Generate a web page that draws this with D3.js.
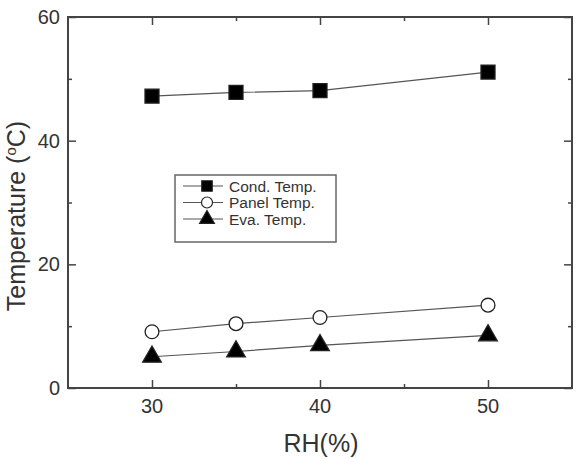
<!DOCTYPE html>
<html><head><meta charset="utf-8">
<script src="https://cdn.jsdelivr.net/npm/d3@7"></script>
<style>body{margin:0;background:#fff;} text{font-family:"Liberation Sans",Arial,sans-serif;fill:#333;}</style>
</head><body><svg id="c" width="583" height="458"></svg>
<script>
const rh = [30, 35, 40, 50];
const condTemp = [47.2, 47.8, 48.1, 51.1];
const panelTemp = [9.1, 10.4, 11.4, 13.4];
const evaTemp = [5.05, 5.9, 6.9, 8.5];
const seriesNames = ["Cond. Temp.", "Panel Temp.", "Eva. Temp."];
const xTicks = [30, 40, 50];
const yTicks = [0, 20, 40, 60];

const svg = d3.select("#c");
const L = 68, R = 572, T = 17, B = 388;
const x = d3.scaleLinear().domain([25, 55]).range([L, R]);
const y = d3.scaleLinear().domain([0, 60]).range([B, T]);
const axisColor = "#444";

function ticks(g, axis) {
  g.call(axis);
  g.select(".domain").remove();
  g.selectAll("line").attr("stroke", axisColor).attr("stroke-width", 1.5);
  g.selectAll("text").remove();
}
const xMinor = [35, 45], yMinor = [10, 30, 50];
svg.append("g").attr("transform", `translate(0,${B})`).call(g => ticks(g, d3.axisTop(x).tickValues(xTicks).tickSize(8)));
svg.append("g").attr("transform", `translate(0,${B})`).call(g => ticks(g, d3.axisTop(x).tickValues(xMinor).tickSize(4)));
svg.append("g").attr("transform", `translate(0,${T})`).call(g => ticks(g, d3.axisBottom(x).tickValues(xTicks).tickSize(8)));
svg.append("g").attr("transform", `translate(0,${T})`).call(g => ticks(g, d3.axisBottom(x).tickValues(xMinor).tickSize(4)));
svg.append("g").attr("transform", `translate(${L},0)`).call(g => ticks(g, d3.axisRight(y).tickValues(yTicks).tickSize(8)));
svg.append("g").attr("transform", `translate(${L},0)`).call(g => ticks(g, d3.axisRight(y).tickValues(yMinor).tickSize(4)));
svg.append("g").attr("transform", `translate(${R},0)`).call(g => ticks(g, d3.axisLeft(y).tickValues(yTicks).tickSize(8)));
svg.append("g").attr("transform", `translate(${R},0)`).call(g => ticks(g, d3.axisLeft(y).tickValues(yMinor).tickSize(4)));

svg.append("rect").attr("x", L).attr("y", T).attr("width", R - L).attr("height", B - T)
  .attr("fill", "none").attr("stroke", axisColor).attr("stroke-width", 2);

svg.selectAll(".xl").data(xTicks).enter().append("text")
  .attr("x", d => x(d)).attr("y", 413).attr("text-anchor", "middle").attr("font-size", 20).text(d => d);
svg.selectAll(".yl").data(yTicks).enter().append("text")
  .attr("x", 60).attr("y", d => y(d) + 7).attr("text-anchor", "end").attr("font-size", 20).text(d => d);

svg.append("text").attr("x", 321).attr("y", 452).attr("text-anchor", "middle").attr("font-size", 25).text("RH(%)");
const yt = svg.append("text").attr("transform", "translate(25,216) rotate(-90)").attr("text-anchor", "middle").attr("font-size", 25);
yt.append("tspan").text("Temperature (");
yt.append("tspan").attr("font-size", 15).attr("dy", -9).text("o");
yt.append("tspan").attr("dy", 9).text("C)");

const series = [
  {name: seriesNames[0], vals: condTemp, sym: d3.symbolSquare, size: 196, fill: "#000"},
  {name: seriesNames[1], vals: panelTemp, sym: d3.symbolCircle, size: 150, fill: "#fff"},
  {name: seriesNames[2], vals: evaTemp, sym: d3.symbolTriangle, size: 150, fill: "#000"}
];
const line = d3.line().x((d, i) => x(rh[i])).y(d => y(d));
series.forEach(s => {
  svg.append("path").datum(s.vals).attr("d", line).attr("fill", "none").attr("stroke", "#555").attr("stroke-width", 1.2);
  svg.selectAll(null).data(s.vals).enter().append("path")
    .attr("transform", (d, i) => `translate(${x(rh[i])},${y(d)})`)
    .attr("d", d3.symbol().type(s.sym).size(s.size))
    .attr("fill", s.fill).attr("stroke", "#222").attr("stroke-width", 1.3);
});

const lg = svg.append("g");
lg.append("rect").attr("x", 175).attr("y", 175).attr("width", 161).attr("height", 67)
  .attr("fill", "#fff").attr("stroke", "#666").attr("stroke-width", 1.5);
const lsizes = [110, 95, 95];
series.forEach((s, i) => {
  const cy = 186 + i * 16.5;
  lg.append("line").attr("x1", 183).attr("x2", 223).attr("y1", cy).attr("y2", cy).attr("stroke", "#555").attr("stroke-width", 1.2);
  lg.append("path").attr("transform", `translate(207,${cy})`).attr("d", d3.symbol().type(s.sym).size(lsizes[i]))
    .attr("fill", s.fill).attr("stroke", "#222").attr("stroke-width", 1.2);
  lg.append("text").attr("x", 229).attr("y", cy + 5.5).attr("font-size", 15.5).text(s.name);
});
</script></body></html>
